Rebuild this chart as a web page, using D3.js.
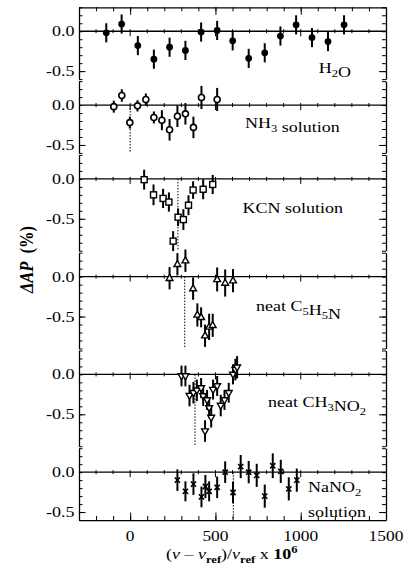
<!DOCTYPE html>
<html><head><meta charset="utf-8">
<script src="https://cdn.jsdelivr.net/npm/d3@7"></script>
<style>body{margin:0;background:#fff}svg{display:block}text{font-family:"Liberation Serif","Times New Roman",serif;fill:#000}</style>
</head><body><svg id="c" width="411" height="576"></svg>
<script>
// ---- data ----
const xTickValues=[0,500,1000,1500];
const xTickLabels=["0","500","1000","1500"];
const yTickValues=[0,-0.5];
const yTickLabels=["0.0","-0.5"];
const panelBottoms=[-0.6,-0.6,-0.9,-0.9,-0.9,-0.6];
const panelTop=0.3;

const h2oX=[-140,-50,45,139,231,324,416,510,601,695,789,881,973,1066,1160,1254];
const h2oY=[-0.02,0.09,-0.18,-0.35,-0.20,-0.24,-0.01,0.01,-0.12,-0.34,-0.27,-0.06,0.08,-0.08,-0.13,0.08];
const h2oErr=[0.12,0.12,0.12,0.12,0.12,0.12,0.12,0.12,0.12,0.12,0.12,0.12,0.12,0.12,0.12,0.12];

const nh3X=[-96,-49,-2,43,92,139,186,231,277,324,371,418,510];
const nh3Y=[-0.02,0.12,-0.22,-0.01,0.07,-0.155,-0.19,-0.31,-0.14,-0.11,-0.28,0.095,0.07];
const nh3Err=[0.075,0.078,0.075,0.07,0.075,0.075,0.125,0.135,0.135,0.135,0.135,0.145,0.145];

const kcnX=[82,137,193,227,252,281,312,342,369,428,484];
const kcnY=[-0.01,-0.2,-0.245,-0.29,-0.78,-0.48,-0.51,-0.33,-0.14,-0.13,-0.07];
const kcnErr=[0.125,0.13,0.12,0.12,0.125,0.11,0.13,0.125,0.11,0.125,0.12];

const pyrX=[231,277,324,369,394,416,439,463,484,510,557,603];
const pyrY=[-0.02,0.155,0.2,-0.15,-0.48,-0.51,-0.74,-0.63,-0.61,-0.035,-0.08,-0.05];
const pyrErr=[0.14,0.14,0.14,0.14,0.145,0.125,0.14,0.165,0.145,0.15,0.17,0.145];

const nmX=[301,324,348,371,391,416,428,439,451,463,475,486,510,531,553,578,603,617,627];
const nmY=[-0.02,-0.02,-0.265,-0.23,-0.2,-0.17,-0.27,-0.71,-0.32,-0.42,-0.54,-0.19,-0.145,-0.39,-0.32,-0.23,0.0,0.06,0.09];
const nmErr=[0.13,0.13,0.135,0.135,0.135,0.125,0.125,0.135,0.125,0.125,0.125,0.125,0.125,0.135,0.125,0.125,0.125,0.135,0.14];

const nano2X=[277,324,371,418,441,463,510,557,603,648,695,742,789,836,883,930,977];
const nano2Y=[-0.1,-0.24,-0.15,-0.31,-0.18,-0.24,-0.19,0.0,-0.255,0.07,0.0,-0.04,-0.3,0.08,0.01,-0.21,-0.1];
const nano2Err=[0.135,0.125,0.135,0.13,0.145,0.125,0.135,0.135,0.135,0.145,0.14,0.145,0.145,0.155,0.145,0.145,0.145];

const refLines=[null,0,280,320,380,605];

// ---- layout ----
const svg=d3.select('#c');
const x=d3.scaleLinear().domain([-300,1500]).range([79,386]);
const unit=79.8, gap=2, top0=7.3;
const ys=[]; let yy=top0;
panelBottoms.forEach(b=>{const h=(panelTop-b)*unit; ys.push(d3.scaleLinear().domain([b,panelTop]).range([yy+h,yy])); yy+=h+gap;});

const series=[
 {x:h2oX,y:h2oY,e:h2oErr,m:'fcircle'},
 {x:nh3X,y:nh3Y,e:nh3Err,m:'ocircle'},
 {x:kcnX,y:kcnY,e:kcnErr,m:'square'},
 {x:pyrX,y:pyrY,e:pyrErr,m:'tup'},
 {x:nmX,y:nmY,e:nmErr,m:'tdown'},
 {x:nano2X,y:nano2Y,e:nano2Err,m:'cross'}
];
const SX=1.2;
function stretchText(g,px,py,anchor,size){
  return g.append('text').attr('transform',`translate(${px},${py}) scale(${SX},1)`).attr('text-anchor',anchor).attr('font-size',size);
}
const minorX=d3.range(-300,1501,100);
const majorX=[0,500,1000];

ys.forEach((y,i)=>{
  const g=svg.append('g');
  const yMin=panelBottoms[i];
  const minorY=d3.range(Math.round(yMin*10),Math.round(panelTop*10)+1).map(v=>v/10);
  // left axis
  const la=g.append('g').attr('transform',`translate(${x.range()[0]},0)`).call(d3.axisRight(y).tickValues(minorY).tickSize(3.5).tickSizeOuter(0).tickFormat(''));
  g.append('g').attr('transform',`translate(${x.range()[0]},0)`).call(d3.axisRight(y).tickValues([-0.5]).tickSize(6.5).tickSizeOuter(0).tickFormat('')).select('.domain').remove();
  const ra=g.append('g').attr('transform',`translate(${x.range()[1]},0)`).call(d3.axisLeft(y).tickValues(minorY).tickSize(4).tickSizeOuter(0).tickFormat(''));
  g.append('g').attr('transform',`translate(${x.range()[1]},0)`).call(d3.axisLeft(y).tickValues([-0.5]).tickSize(7).tickSizeOuter(0).tickFormat('')).select('.domain').remove();
  // zero line
  const z=y(0);
  g.append('line').attr('x1',x.range()[0]).attr('x2',x.range()[1]).attr('y1',z).attr('y2',z).attr('stroke','#000').attr('stroke-width',1.3);
  g.selectAll('.zt').data(minorX.filter(v=>v>-300&&v<1500)).join('line')
    .attr('x1',d=>x(d)).attr('x2',d=>x(d)).attr('y1',z-2).attr('y2',d=>majorX.includes(d)?z+5:z+2).attr('stroke','#000').attr('stroke-width',1);
  // y tick labels
  yTickValues.forEach((v,k)=>{ stretchText(g,74.5,y(v)+5,'end',15).text(yTickLabels[k]); });
  // ref line
  if(refLines[i]!==null){
    g.append('line').attr('x1',x(refLines[i])).attr('x2',x(refLines[i])).attr('y1',z).attr('y2',y(yMin)).attr('stroke','#000').attr('stroke-width',1).attr('stroke-dasharray','1.5,1.5');
  }
  g.selectAll('path.domain').attr('stroke','#000').attr('stroke-width',1.3);
  g.selectAll('.tick line').attr('stroke','#000').attr('stroke-width',1);
});

// top and bottom borders
const yT=ys[0](panelTop), yB=ys[5](panelBottoms[5]);
const topAx=svg.append('g').attr('transform',`translate(0,${yT})`).call(d3.axisBottom(x).tickValues(minorX).tickSize(4).tickSizeOuter(0).tickFormat(''));
svg.append('g').attr('transform',`translate(0,${yT})`).call(d3.axisBottom(x).tickValues(majorX).tickSize(7.5).tickSizeOuter(0).tickFormat('')).select('.domain').remove();
const botAx=svg.append('g').attr('transform',`translate(0,${yB})`).call(d3.axisTop(x).tickValues(minorX).tickSize(4).tickSizeOuter(0).tickFormat(''));
svg.append('g').attr('transform',`translate(0,${yB})`).call(d3.axisTop(x).tickValues(majorX).tickSize(7.5).tickSizeOuter(0).tickFormat('')).select('.domain').remove();
svg.selectAll('path.domain').attr('stroke','#000').attr('stroke-width',1.3);
svg.selectAll('.tick line').attr('stroke','#000').attr('stroke-width',1);

// x tick labels
xTickValues.forEach((v,k)=>{ stretchText(svg,x(v),541,'middle',14.5).text(xTickLabels[k]); });

// data
const markers={
 fcircle:(g)=>g.append('circle').attr('r',3.4).attr('fill','#000'),
 ocircle:(g)=>g.append('circle').attr('r',3).attr('fill','#fff').attr('stroke','#000').attr('stroke-width',1.6),
 square:(g)=>g.append('rect').attr('x',-3).attr('y',-3).attr('width',6).attr('height',6).attr('fill','#fff').attr('stroke','#000').attr('stroke-width',1.4),
 tup:(g)=>g.append('path').attr('d','M0,-3.8L3.4,2.2L-3.4,2.2Z').attr('fill','#fff').attr('stroke','#000').attr('stroke-width',1.4),
 tdown:(g)=>g.append('path').attr('d','M0,3.8L3.4,-2.2L-3.4,-2.2Z').attr('fill','#fff').attr('stroke','#000').attr('stroke-width',1.4),
 cross:(g)=>g.append('path').attr('d','M-2.6,-2.6L2.6,2.6M-2.6,2.6L2.6,-2.6').attr('fill','none').attr('stroke','#000').attr('stroke-width',1.6)
};
series.forEach((s,i)=>{
  const y=ys[i];
  const g=svg.append('g');
  const idx=d3.range(s.x.length);
  g.selectAll('line.eb').data(idx).join('line').attr('class','eb')
   .attr('x1',d=>x(s.x[d])).attr('x2',d=>x(s.x[d]))
   .attr('y1',d=>y(s.y[d]+s.e[d])).attr('y2',d=>y(s.y[d]-s.e[d]))
   .attr('stroke','#000').attr('stroke-width',2);
  idx.forEach(d=>{
    const mg=g.append('g').attr('transform',`translate(${x(s.x[d])},${y(s.y[d])})`);
    markers[s.m](mg);
  });
});

// panel labels
function sub(t,txt){t.append('tspan').attr('font-size',10.5).attr('dy',4).text(txt);t.append('tspan').attr('dy',-4).text('');}
let t;
t=stretchText(svg,351,73,'end',15); t.append('tspan').text('H'); sub(t,'2'); t.append('tspan').text('O');
t=stretchText(svg,245,128,'start',15); t.append('tspan').text('NH'); sub(t,'3'); t.append('tspan').text(' solution');
t=stretchText(svg,242.5,213,'start',15); t.text('KCN solution');
t=stretchText(svg,256,311,'start',15); t.append('tspan').text('neat C'); sub(t,'5'); t.append('tspan').text('H'); sub(t,'5'); t.append('tspan').text('N');
t=stretchText(svg,268,407,'start',15); t.append('tspan').text('neat CH'); sub(t,'3'); t.append('tspan').text('NO'); sub(t,'2');
t=stretchText(svg,308,491.5,'start',15); t.append('tspan').text('NaNO'); sub(t,'2');
t=stretchText(svg,308,517,'start',15); t.text('solution');

// x label
t=stretchText(svg,166,559,'start',15);
t.append('tspan').text('(');
t.append('tspan').attr('font-style','italic').text('ν');
t.append('tspan').text(' – ');
t.append('tspan').attr('font-style','italic').text('ν');
t.append('tspan').attr('font-size',10.5).attr('font-weight','bold').attr('dy',4).text('ref');
t.append('tspan').attr('dy',-4).text(')/');
t.append('tspan').attr('font-style','italic').text('ν');
t.append('tspan').attr('font-size',10.5).attr('font-weight','bold').attr('dy',4).text('ref');
t.append('tspan').attr('dy',-4).text(' x ');
t.append('tspan').attr('font-weight','bold').text('10');
t.append('tspan').attr('font-weight','bold').attr('font-size',10.5).attr('dy',-6).text('6');

// y label
const yl=svg.append('text').attr('transform',`translate(33,259.5) scale(${SX},1) rotate(-90)`).attr('text-anchor','middle').attr('font-size',16.5).attr('font-weight','bold');
yl.append('tspan').attr('font-style','italic').text('ΔAP');
yl.append('tspan').text('  (%)').attr('xml:space','preserve');
</script></body></html>
